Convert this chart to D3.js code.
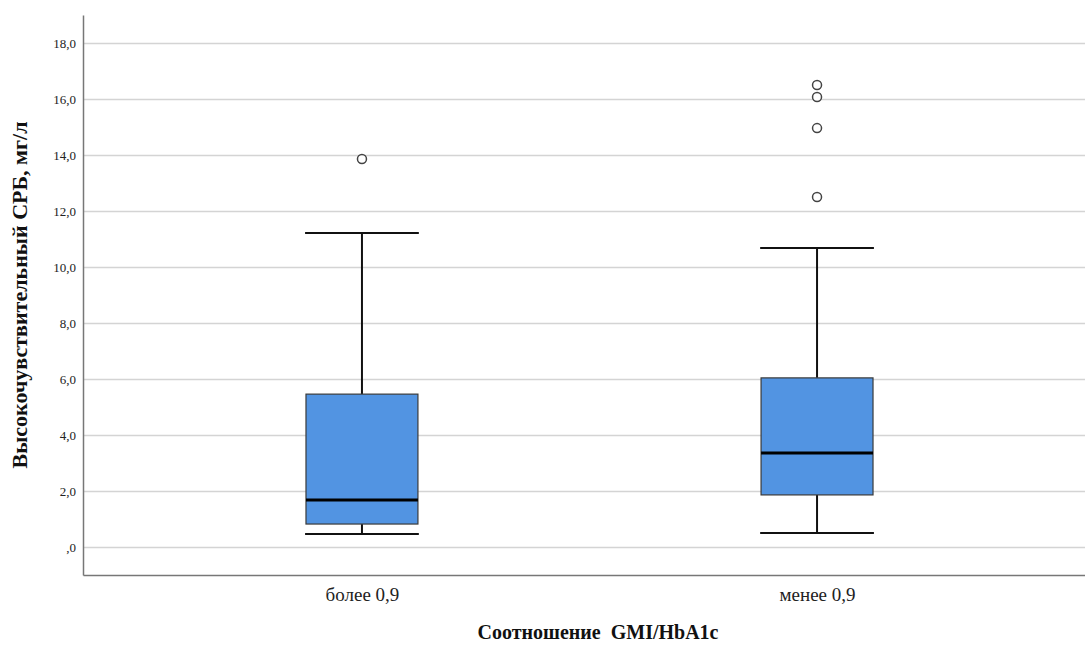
<!DOCTYPE html>
<html>
<head>
<meta charset="utf-8">
<script src="https://cdn.jsdelivr.net/npm/d3@7"></script>
<style>
  body { margin: 0; background: #fff; }
  svg text { font-family: "Liberation Serif", "Times New Roman", serif !important; }
</style>
</head>
<body>
<div id="chart"></div>
<script>
// Groups and box statistics
const groups = ['более 0,9', 'менее 0,9'];
const whiskerLow = [0.46, 0.50];
const q1 = [0.82, 1.86];
const median = [1.68, 3.36];
const q3 = [5.46, 6.04];
const whiskerHigh = [11.21, 10.68];
const outliers = [[13.86], [16.5, 16.07, 14.96, 12.5]];
const yTicks = [0, 2, 4, 6, 8, 10, 12, 14, 16, 18];

const W = 1085, H = 646;
const margin = { top: 15, right: -11, bottom: 71, left: 83 };
const width = W - margin.left - margin.right;
const height = H - margin.top - margin.bottom;
const serif = '"Liberation Serif", "Times New Roman", serif';

const svg = d3.select('#chart').append('svg')
  .attr('width', W).attr('height', H);
const g = svg.append('g').attr('transform', `translate(${margin.left},${margin.top})`);

const x = d3.scalePoint().domain(groups).range([0, width]).padding(0.613);
const y = d3.scaleLinear().domain([-1, 19]).range([height, 0]);

// grid lines
g.append('g')
  .call(d3.axisLeft(y).tickValues(yTicks).tickSize(-width).tickFormat(''))
  .call((s) => s.select('.domain').remove())
  .call((s) => s.selectAll('.tick line').attr('stroke', '#d4d4d4').attr('stroke-width', 1.5));

// y axis
const fmt = (d) => (d === 0 ? ',0' : d3.format('.1f')(d).replace('.', ','));
g.append('g')
  .attr('font-family', serif)
  .call(d3.axisLeft(y).tickValues(yTicks).tickSize(0).tickPadding(7).tickFormat(fmt))
  .call((s) => s.select('.domain').attr('stroke', '#777').attr('stroke-width', 1.5))
  .call((s) => s.selectAll('text').attr('font-family', serif).style('font-size', '13px').attr('fill', '#222'));

// x axis
g.append('g')
  .attr('transform', `translate(0,${height})`)
  .attr('font-family', serif)
  .call(d3.axisBottom(x).tickSize(0).tickPadding(13))
  .call((s) => s.select('.domain').attr('stroke', '#777').attr('stroke-width', 1.5))
  .call((s) => s.selectAll('text').attr('font-family', serif).style('font-size', '19px').attr('fill', '#222'));

const boxW = x.step() * 0.246;
const capW = x.step() * 0.125;

groups.forEach((grp, i) => {
  const cx = x(grp);
  const b = g.append('g');
  // whisker stems
  b.append('line').attr('x1', cx).attr('x2', cx)
    .attr('y1', y(q3[i])).attr('y2', y(whiskerHigh[i]))
    .attr('stroke', '#111').attr('stroke-width', 2);
  b.append('line').attr('x1', cx).attr('x2', cx)
    .attr('y1', y(q1[i])).attr('y2', y(whiskerLow[i]))
    .attr('stroke', '#111').attr('stroke-width', 2);
  // caps
  [whiskerHigh[i], whiskerLow[i]].forEach((v) => {
    b.append('line').attr('x1', cx - capW).attr('x2', cx + capW)
      .attr('y1', y(v)).attr('y2', y(v))
      .attr('stroke', '#111').attr('stroke-width', 2);
  });
  // box
  b.append('rect')
    .attr('x', cx - boxW / 2).attr('width', boxW)
    .attr('y', y(q3[i])).attr('height', y(q1[i]) - y(q3[i]))
    .attr('fill', '#5294e2').attr('stroke', '#3a3a3a').attr('stroke-width', 1.2);
  // median
  b.append('line').attr('x1', cx - boxW / 2).attr('x2', cx + boxW / 2)
    .attr('y1', y(median[i])).attr('y2', y(median[i]))
    .attr('stroke', '#000').attr('stroke-width', 3);
  // outliers
  b.selectAll('circle').data(outliers[i]).enter().append('circle')
    .attr('cx', cx).attr('cy', (d) => y(d)).attr('r', 4.5)
    .attr('fill', '#fff').attr('stroke', '#444').attr('stroke-width', 1.5);
});

// axis titles
svg.append('text')
  .attr('x', margin.left + 515).attr('y', 639)
  .attr('text-anchor', 'middle')
  .style('white-space', 'pre')
  .style('font-size', '20px').style('font-weight', 'bold').attr('fill', '#111')
  .text('Соотношение  GMI/HbA1c');

svg.append('text')
  .attr('transform', `translate(27,${margin.top + height / 2}) rotate(-90)`)
  .attr('text-anchor', 'middle')
  .style('font-size', '22px').style('font-weight', 'bold').attr('fill', '#111')
  .text('Высокочувствительный СРБ, мг/л');
</script>
</body>
</html>
